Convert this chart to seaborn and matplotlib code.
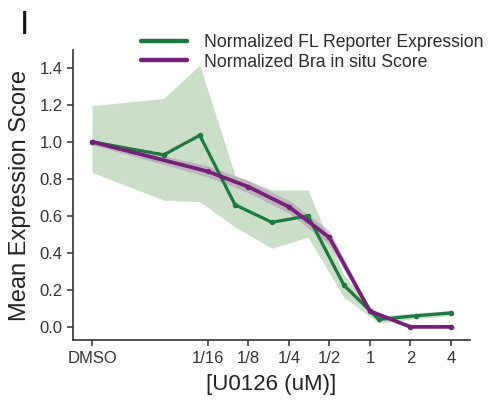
import matplotlib
matplotlib.use("Agg")
import matplotlib.pyplot as plt
import seaborn as sns
import pandas as pd

# Dose axis is log2(uM); DMSO control sits to the left of the dilution series
tick_pos = [-6.86, -4, -3, -2, -1, 0, 1, 2]
tick_labels = ["DMSO", "1/16", "1/8", "1/4", "1/2", "1", "2", "4"]

# Normalized FL reporter expression (mean and band limits)
fl_pos = [-6.86, -5.09, -4.2, -3.33, -2.42, -1.53, -0.64, 0.22, 1.14, 2.0]
fl_mean = [1.00, 0.93, 1.035, 0.66, 0.565, 0.60, 0.225, 0.04, 0.06, 0.075]
fl_low = [0.835, 0.685, 0.676, 0.54, 0.425, 0.485, 0.16, 0.02, 0.045, 0.06]
fl_high = [1.195, 1.235, 1.415, 0.82, 0.74, 0.74, 0.28, 0.06, 0.075, 0.09]

# Normalized Bra in situ score
bra_pos = [-6.86, -4, -3, -2, -1, 0, 1, 2]
bra_mean = [1.00, 0.84, 0.757, 0.649, 0.483, 0.085, 0.0, 0.0]
bra_low = [0.985, 0.81, 0.725, 0.615, 0.445, 0.07, -0.005, -0.005]
bra_high = [1.015, 0.87, 0.79, 0.685, 0.52, 0.10, 0.005, 0.005]

green = "#1b7a3e"
purple = "#76207a"

sns.set_style("ticks")
plt.rcParams["font.family"] = ["Liberation Sans", "DejaVu Sans"]

fig = plt.figure(figsize=(4.9, 4.04), dpi=100)
ax = fig.add_axes([0.149, 0.158, 0.81, 0.718])

fl = pd.DataFrame({"pos": fl_pos, "mean": fl_mean})
bra = pd.DataFrame({"pos": bra_pos, "mean": bra_mean})

ax.fill_between(fl_pos, fl_low, fl_high, color="#a9c9a4", alpha=0.6, lw=0, zorder=1)
ax.fill_between(bra_pos, bra_low, bra_high, color="#b08cb6", alpha=0.5, lw=0, zorder=2)

sns.lineplot(data=fl, x="pos", y="mean", ax=ax, color=green, lw=2.3,
             marker="o", markersize=4, markeredgewidth=0,
             label="Normalized FL Reporter Expression", zorder=3)
sns.lineplot(data=bra, x="pos", y="mean", ax=ax, color=purple, lw=2.7,
             marker="o", markersize=4, markeredgewidth=0,
             label="Normalized Bra in situ Score", zorder=4)

ax.set_xlim(-7.33, 2.47)
ax.set_ylim(-0.072, 1.496)
ax.set_xticks(tick_pos)
ax.set_xticklabels(tick_labels)
ax.set_yticks([0.0, 0.2, 0.4, 0.6, 0.8, 1.0, 1.2, 1.4])
ax.set_yticklabels(["0.0", "0.2", "0.4", "0.6", "0.8", "1.0", "1.2", "1.4"])
ax.tick_params(axis="both", labelsize=12, colors="#333333", length=4, width=1.1)
for s in ["left", "bottom"]:
    ax.spines[s].set_color("#333333")
    ax.spines[s].set_linewidth(1.2)
sns.despine(ax=ax)

ax.set_xlabel("[U0126 (uM)]", fontsize=16, color="#222222", labelpad=6)
ax.set_ylabel("Mean Expression Score", fontsize=17, color="#222222", labelpad=6)

leg = ax.legend(loc="lower left", bbox_to_anchor=(0.153, 0.905), frameon=False,
                fontsize=12.7, handlelength=2.6, handletextpad=1.0,
                labelspacing=0.15, borderaxespad=0)
for t in leg.get_texts():
    t.set_color("#2a2a2a")
for h in leg.legend_handles:
    h.set_marker("")
    h.set_linewidth(3.2)

fig.text(0.04, 0.975, "I", fontsize=24, va="top", ha="left", color="#111111")

fig.savefig("out.png", dpi=100)
